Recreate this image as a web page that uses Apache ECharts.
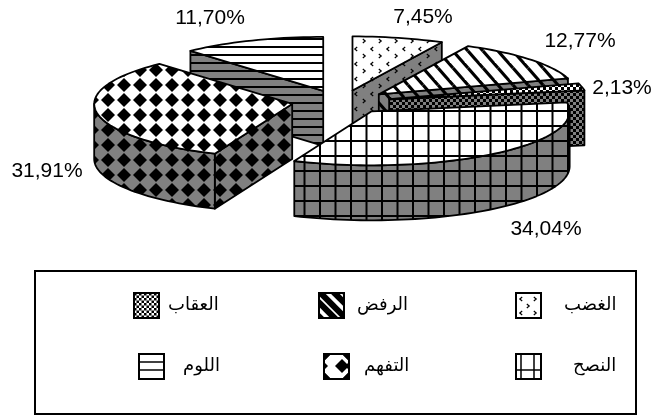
<!DOCTYPE html>
<html>
<head>
<meta charset="utf-8">
<style>
html,body{margin:0;padding:0;background:#fff}
#main{width:659px;height:416px}
</style>
<script src="https://cdn.jsdelivr.net/npm/echarts@6/dist/echarts.min.js"></script>
</head>
<body>
<div id="main"></div>
<script>
var categories = ['الغضب', 'الرفض', 'العقاب', 'النصح', 'التفهم', 'اللوم'];
var values = [7.45, 12.77, 2.13, 34.04, 31.91, 11.70];

// painter order, back slices first
var drawOrder = [5, 0, 1, 2, 4, 3];
var total = values.reduce(function (a, b) { return a + b }, 0);

// pie geometry
var pie = { cx: 341, cy: 102, rx: 198, ry: 54, depth: 55, explodeX: 0.25, explodeY: 0.22 };
var labelPos = [[423, 17], [580, 41], [622, 88], [546, 229], [47, 171], [210, 18]];
// swatch x, swatch y, gap to the text, text padding top, text padding bottom
var legendPos = [[515, 292, 18, 3, 0], [318, 292, 8, 3, 0], [133, 292, 4, 3, 0], [515, 353, 27, 0, 9], [323, 353, 10, 0, 9], [138, 353, 14, 0, 9]];

var FONT = '"Liberation Sans", Arial, sans-serif';
var ARABIC = '"Liberation Sans", "DejaVu Sans", sans-serif';

// tile helper: draw is repeated around so shapes wrap over the edges
function makeTile(bg, w, h, draw) {
    var c = document.createElement('canvas');
    c.width = w;
    c.height = h;
    var ctx = c.getContext('2d');
    ctx.fillStyle = bg;
    ctx.fillRect(0, 0, w, h);
    ctx.fillStyle = '#000';
    ctx.strokeStyle = '#000';
    for (var i = -1; i <= 1; i++) {
        for (var j = -1; j <= 1; j++) {
            ctx.save();
            ctx.translate(i * w, j * h);
            draw(ctx);
            ctx.restore();
        }
    }
    return { image: c, repeat: 'repeat' };
}
function diamond(ctx, x, y, r) {
    ctx.beginPath();
    ctx.moveTo(x, y - r);
    ctx.lineTo(x + r, y);
    ctx.lineTo(x, y + r);
    ctx.lineTo(x - r, y);
    ctx.closePath();
    ctx.fill();
}
function hline(ctx, y, w, lw) {
    ctx.lineWidth = lw;
    ctx.beginPath();
    ctx.moveTo(0, y);
    ctx.lineTo(w, y);
    ctx.stroke();
}
function vline(ctx, x, h, lw) {
    ctx.lineWidth = lw;
    ctx.beginPath();
    ctx.moveTo(x, 0);
    ctx.lineTo(x, h);
    ctx.stroke();
}
function chevron(ctx, x, y, dir) {
    ctx.lineWidth = 1.2;
    ctx.beginPath();
    ctx.moveTo(x - dir * 1.2, y - 2);
    ctx.lineTo(x + dir * 1.2, y);
    ctx.lineTo(x - dir * 1.2, y + 2);
    ctx.stroke();
}

// pattern per category, chart scale
var drawers = [
    { w: 16, h: 15, draw: function (c) { chevron(c, 4, 4, -1); chevron(c, 12, 11, 1) } },
    { w: 15, h: 17, draw: function (c) {
        c.lineWidth = 3.2; c.beginPath(); c.moveTo(3, 0); c.lineTo(18, 17); c.stroke();
    } },
    { w: 6, h: 6, draw: function (c) { c.fillRect(0, 0, 3, 3); c.fillRect(3, 3, 3, 3) } },
    { w: 31, h: 15, draw: function (c) { vline(c, 10, 15, 2); vline(c, 25.5, 15, 2); hline(c, 6, 31, 2) } },
    { w: 16, h: 15, draw: function (c) { diamond(c, 12, 10, 7) } },
    { w: 8, h: 8, draw: function (c) { hline(c, 7, 8, 2) } }
];
// legend swatches have the pattern at a coarser scale
var legendDrawers = [
    function (c) { chevron(c, 5, 6, -1); chevron(c, 19, 6, 1); chevron(c, 12, 13, 1); chevron(c, 5, 20, -1); chevron(c, 19, 20, 1) },
    function (c) { c.lineWidth = 4; for (var k = -25; k < 25; k += 14) { c.beginPath(); c.moveTo(k, 0); c.lineTo(k + 25, 25); c.stroke() } },
    function (c) { for (var x = 0; x < 25; x += 5) { for (var y = 0; y < 25; y += 5) { c.fillRect(x, y, 2.5, 2.5); c.fillRect(x + 2.5, y + 2.5, 2.5, 2.5) } } },
    function (c) { vline(c, 5, 25, 1.5); vline(c, 18, 25, 1.5); hline(c, 16, 25, 1.5) },
    function (c) { diamond(c, 18, 12, 7); diamond(c, 0, 0, 7); diamond(c, 0, 25, 7); diamond(c, 25, 0, 5); diamond(c, 25, 25, 5); diamond(c, 0, 12, 4) },
    function (c) { hline(c, 8, 25, 1.5); hline(c, 16, 25, 1.5) }
];

var topFill = drawers.map(function (d) { return makeTile('#fff', d.w, d.h, d.draw) });
var sideFill = drawers.map(function (d) { return makeTile('#808080', d.w, d.h, d.draw) });
var legendFill = legendDrawers.map(function (d) { return makeTile('#fff', 25, 25, d) });

// start/end angle in degrees, clockwise from 12 o'clock
function sliceAngles(i) {
    var before = 0;
    for (var k = 0; k < i; k++) before += values[k];
    return [before / total * 360, (before + values[i]) / total * 360];
}
function project(c, deg, r) {
    var a = deg * Math.PI / 180;
    return [c[0] + r * pie.rx * Math.sin(a), c[1] - r * pie.ry * Math.cos(a)];
}
function sliceCenter(mid) {
    var a = mid * Math.PI / 180;
    return [pie.cx + pie.explodeX * pie.rx * Math.sin(a), pie.cy - pie.explodeY * pie.ry * Math.cos(a)];
}
function arcPoints(c, a0, a1) {
    var pts = [];
    var n = Math.max(2, Math.ceil((a1 - a0) / 2));
    for (var k = 0; k <= n; k++) pts.push(project(c, a0 + (a1 - a0) * k / n, 1));
    return pts;
}
function down(p) { return [p[0], p[1] + pie.depth] }

function face(points, fill) {
    return {
        type: 'polygon',
        shape: { points: points },
        style: { fill: fill, stroke: '#000', lineWidth: 1.8, lineJoin: 'round' }
    };
}

function renderSlice(i) {
    return function (params, api) {
        var v = api.value(0);
        var ang = sliceAngles(i);
        var c = sliceCenter((ang[0] + ang[1]) / 2);
        var children = [];
        var tip;
        // radial walls
        if (ang[1] > 0 && ang[1] < 180) {
            tip = project(c, ang[1], 1);
            children.push(face([c, tip, down(tip), down(c)], sideFill[i]));
        }
        if (ang[0] > 180 && ang[0] < 360) {
            tip = project(c, ang[0], 1);
            children.push(face([c, tip, down(tip), down(c)], sideFill[i]));
        }
        // outer wall, only the part turned to the viewer
        var w0 = Math.max(ang[0], 90), w1 = Math.min(ang[1], 270);
        if (w1 > w0) {
            var arc = arcPoints(c, w0, w1);
            children.push(face(arc.concat(arc.map(down).reverse()), sideFill[i]));
        }
        children.push(face([c].concat(arcPoints(c, ang[0], ang[1])), topFill[i]));
        children.push({
            type: 'text',
            style: {
                text: v.toFixed(2).replace('.', ',') + '%',
                x: labelPos[i][0], y: labelPos[i][1],
                align: 'center', verticalAlign: 'middle',
                font: '21px ' + FONT, fill: '#000'
            }
        });
        return { type: 'group', children: children };
    };
}

var chart = echarts.init(document.getElementById('main'));
var option = {
    animation: false,
    backgroundColor: '#fff',
    graphic: [{
        type: 'rect',
        z: 0,
        shape: { x: 35, y: 271, width: 601, height: 143 },
        style: { fill: 'none', stroke: '#000', lineWidth: 2 }
    }],
    legend: categories.map(function (name, i) {
        return {
            left: legendPos[i][0],
            top: legendPos[i][1],
            padding: 0,
            itemWidth: 25,
            itemHeight: 25,
            selectedMode: false,
            data: [{
                name: name,
                icon: 'rect',
                itemStyle: { color: legendFill[i], borderColor: '#000', borderWidth: 2 }
            }],
            textStyle: {
                color: '#000',
                fontSize: 18,
                fontFamily: ARABIC,
                padding: [legendPos[i][3], 0, legendPos[i][4], legendPos[i][2]]
            }
        };
    }),
    series: drawOrder.map(function (i, order) {
        return {
            type: 'custom',
            name: categories[i],
            coordinateSystem: 'none',
            silent: true,
            z: 2 + order,
            data: [[values[i]]],
            renderItem: renderSlice(i)
        };
    })
};
chart.setOption(option);
</script>
</body>
</html>
